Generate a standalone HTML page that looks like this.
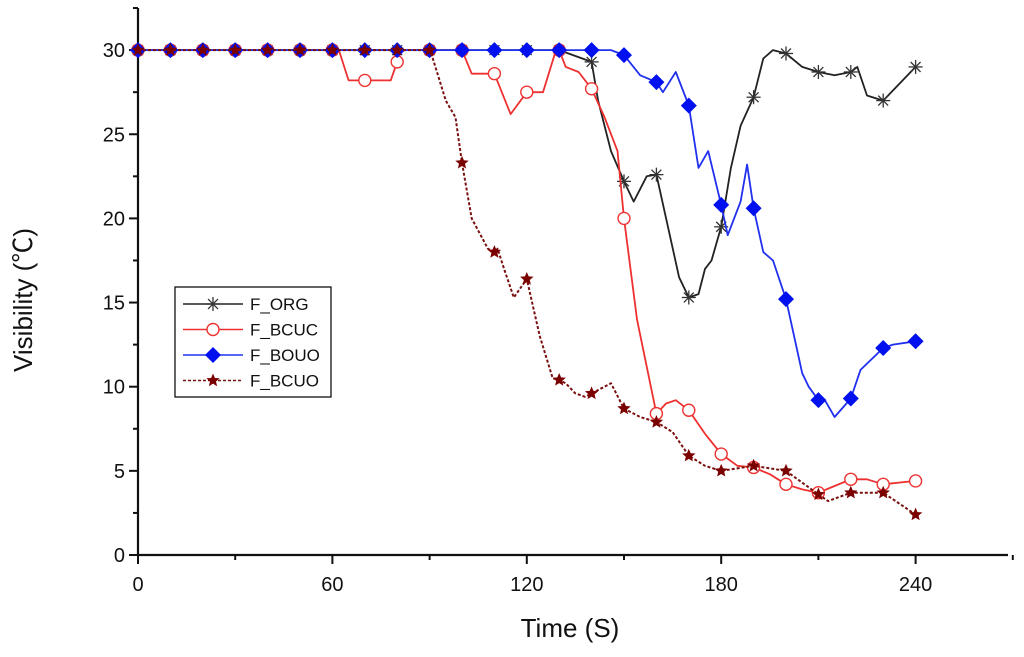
<!DOCTYPE html>
<html><head><meta charset="utf-8"><style>
body{margin:0;background:#fff;}
svg{display:block;font-family:"Liberation Sans","Noto Sans CJK SC",sans-serif;}
</style></head><body>
<svg id="chart" width="1024" height="657"></svg>
<script>
const xTicks=[0,60,120,180,240];
const yTicks=[0,5,10,15,20,25,30];
const seriesNames=["F_ORG","F_BCUC","F_BOUO","F_BCUO"];
const orgT=[0,130,140,142,146,150,153,157,160,163,167,170,173,175,177,180,183,186,190,193,196,200,205,210,215,220,222,225,230,235,240];
const orgV=[30,30,29.3,27,24,22.2,21,22.5,22.6,20,16.5,15.3,15.5,17,17.5,19.5,23,25.5,27.2,29.5,30,29.8,29,28.7,28.5,28.7,29,27.3,27,28,29];
const bcucT=[0,62,65,70,78,80,81,100,103,110,115,120,125,129,130,132,136,140,144,148,150,154,160,163,166,170,175,180,185,190,195,200,205,210,215,220,225,230,240];
const bcucV=[30,30,28.2,28.2,28.2,29.3,30,30,28.6,28.6,26.2,27.5,27.5,30,30,29,28.7,27.7,26,24,20,14,8.4,9,9.2,8.6,7.2,6,5.3,5.2,4.8,4.2,3.9,3.7,4.1,4.5,4.5,4.2,4.4];
const bououT=[0,146,150,155,160,162,166,170,173,176,180,182,186,188,190,193,196,200,205,207,210,212,215,220,223,230,233,240];
const bououV=[30,30,29.7,28.5,28.1,27.5,28.7,26.7,23,24,20.8,19,21,23.2,20.6,18,17.5,15.2,10.8,10,9.2,9.2,8.2,9.3,11,12.3,12.5,12.7];
const bcuoT=[0,90,91,95,98,100,103,108,110,111,113,116,120,124,128,130,132,135,138,140,146,150,155,160,165,170,175,180,190,200,210,213,220,230,240];
const bcuoV=[30,30,29.5,27,26,23.3,20,18.2,18,18.2,17,15.3,16.4,13,10.5,10.4,10.2,9.6,9.4,9.6,10.2,8.7,8.2,7.9,7.3,5.9,5.3,5,5.3,5,3.6,3.2,3.7,3.7,2.4];

const NS="http://www.w3.org/2000/svg";
const svg=document.getElementById('chart');
const X0=138,XS=3.24,Y0=555,YS=16.83;
const sx=t=>X0+t*XS, sy=v=>Y0-v*YS;
function mk(tag,attrs,parent){const e=document.createElementNS(NS,tag);for(const k in attrs)e.setAttribute(k,attrs[k]);(parent||svg).appendChild(e);return e;}
function interp(T,V,t){for(let i=0;i<T.length-1;i++){if(t>=T[i]&&t<=T[i+1]){const f=T[i+1]===T[i]?0:(t-T[i])/(T[i+1]-T[i]);return V[i]+f*(V[i+1]-V[i]);}}return V[V.length-1];}

const ax=mk('g',{});


mk('line',{x1:X0,y1:8,x2:X0,y2:Y0+1,stroke:'#111','stroke-width':2.2},ax);
mk('line',{x1:X0-1,y1:Y0,x2:1008,y2:Y0,stroke:'#111','stroke-width':2.2},ax);
for(let t=0;t<=270;t+=30){const maj=t%60===0;mk('line',{x1:sx(t),y1:Y0,x2:sx(t),y2:Y0+(maj?9:5),stroke:'#111','stroke-width':2},ax);}
for(let v=0;v<=32.5;v+=2.5){const maj=v%5===0;mk('line',{x1:X0,y1:sy(v),x2:X0-(maj?9:5),y2:sy(v),stroke:'#111','stroke-width':2},ax);}
xTicks.forEach(t=>{const e=mk('text',{x:sx(t),y:591,'text-anchor':'middle','font-size':20,fill:'#111'},ax);e.textContent=t;

});
yTicks.forEach(v=>{const e=mk('text',{x:125,y:sy(v)+7,'text-anchor':'end','font-size':20,fill:'#111'},ax);e.textContent=v;

});
const xt=mk('text',{x:570,y:637,'text-anchor':'middle','font-size':26,fill:'#111'});xt.textContent='Time (S)';


const yt=mk('text',{x:0,y:0,'text-anchor':'middle','font-size':26,fill:'#111',transform:'translate(32,300) rotate(-90)'});yt.textContent='Visibility (℃)';



function star(g,x,y,r,fill){let p=[];for(let i=0;i<10;i++){const a=-Math.PI/2+i*Math.PI/5;const rr=i%2?r*0.45:r;p.push((x+rr*Math.cos(a)).toFixed(1)+','+(y+rr*Math.sin(a)).toFixed(1));}return mk('polygon',{points:p.join(' '),fill:fill},g);}
function asterisk(g,x,y,r,c){for(let i=0;i<4;i++){const a=i*Math.PI/4;mk('line',{x1:x-r*Math.cos(a),y1:y-r*Math.sin(a),x2:x+r*Math.cos(a),y2:y+r*Math.sin(a),stroke:c,'stroke-width':1.3},g);}}
function marker(g,type,x,y){
 if(type==='ast')asterisk(g,x,y,7,'#333');
 else if(type==='circ')mk('circle',{cx:x,cy:y,r:6,fill:'#fff',stroke:'#e33','stroke-width':1.4},g);
 else if(type==='dia')mk('polygon',{points:`${x},${y-8} ${x+8},${y} ${x},${y+8} ${x-8},${y}`,fill:'#0010ee'},g);
 else star(g,x,y,7,'#7a0000');
}
const defs=[
 {name:'org',T:orgT,V:orgV,color:'#222',m:'ast',dash:null,w:1.8},
 {name:'bcuc',T:bcucT,V:bcucV,color:'#ee3030',m:'circ',dash:null,w:1.8},
 {name:'bouo',T:bououT,V:bououV,color:'#2030ee',m:'dia',dash:null,w:1.8},
 {name:'bcuo',T:bcuoT,V:bcuoV,color:'#7a1010',m:'star',dash:'3,2',w:2}
];
defs.forEach(d=>{
 const g=mk('g',{});
 
 
 const pts=d.T.map((t,i)=>sx(t).toFixed(1)+','+sy(d.V[i]).toFixed(1)).join(' ');
 const pl=mk('polyline',{points:pts,fill:'none',stroke:d.color,'stroke-width':d.w,'stroke-linejoin':'round'},g);
 if(d.dash)pl.setAttribute('stroke-dasharray',d.dash);
 for(let t=0;t<=240;t+=10){marker(g,d.m,sx(t),sy(interp(d.T,d.V,t)));}
});

const lg=mk('g',{});


mk('rect',{x:175,y:287,width:156,height:110,fill:'#fff',stroke:'#111','stroke-width':1.3},lg);
defs.forEach((d,i)=>{
 const y=304+i*25.5;
 const e=mk('g',{},lg);
 
 
 const l=mk('line',{x1:183,y1:y,x2:243,y2:y,stroke:d.color,'stroke-width':1.6},e);
 if(d.dash)l.setAttribute('stroke-dasharray',d.dash);
 marker(e,d.m,213,y);
 const tx=mk('text',{x:250,y:y+6,'font-size':17,fill:'#111'},e);tx.textContent=seriesNames[i];
});
</script>
</body></html>
